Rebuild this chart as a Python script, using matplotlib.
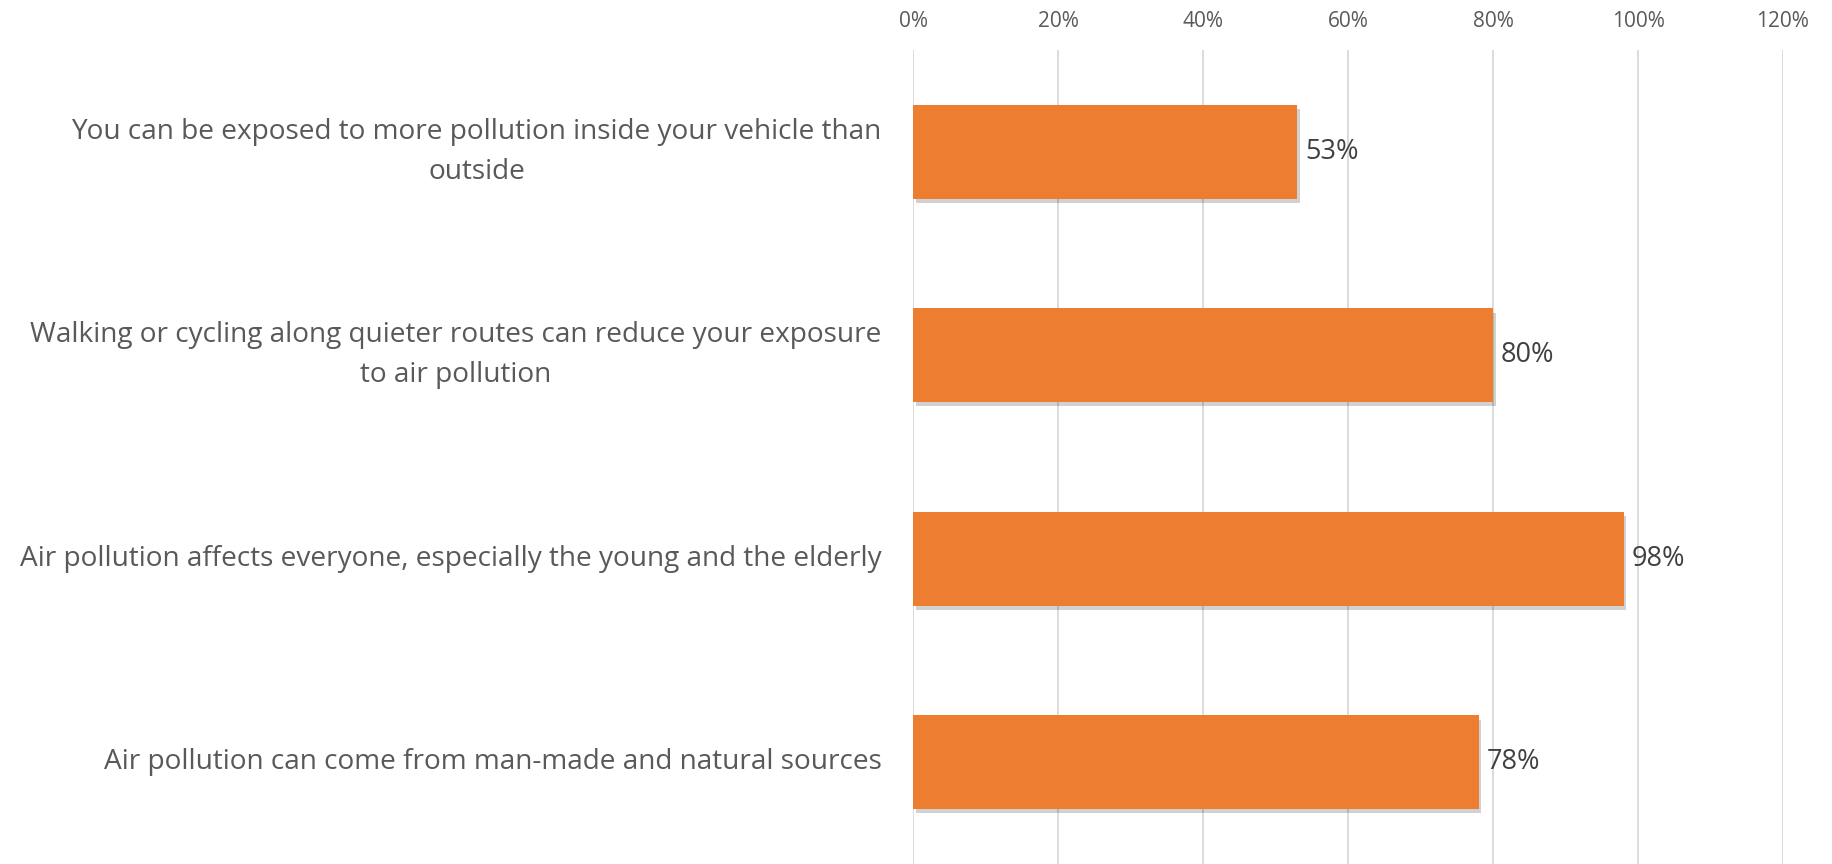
import matplotlib.pyplot as plt
import matplotlib.patheffects as pe
from matplotlib.ticker import PercentFormatter

plt.rcParams['font.family'] = ['Open Sans', 'DejaVu Sans']

# survey statements, top to bottom
statements = [
    "You can be exposed to more pollution inside your vehicle than\noutside",
    "Walking or cycling along quieter routes can reduce your exposure\nto air pollution",
    "Air pollution affects everyone, especially the young and the elderly",
    "Air pollution can come from man-made and natural sources",
]
agree_pct = [53, 80, 98, 78]
x_ticks = [0, 20, 40, 60, 80, 100, 120]

bar_color = '#ED7D31'
grid_color = '#D9D9D9'

fig = plt.figure(figsize=(18.32, 8.64), dpi=100)
ax = fig.add_axes([913 / 1832, 0, 870 / 1832, 814 / 864])

ypos = list(range(len(statements)))
bars = ax.barh(ypos, agree_pct, height=0.46, color=bar_color, zorder=3)
for b in bars:
    b.set_path_effects([pe.SimplePatchShadow(offset=(2, -3), shadow_rgbFace='#000000', alpha=0.18),
                        pe.Normal()])

for y, v in zip(ypos, agree_pct):
    ax.text(v + 1.1, y, f"{v}%", va='center', ha='left', fontsize=19.5, color='#404040')

ax.set_xlim(0, 120)
ax.set_ylim(len(statements) - 0.5, -0.5)
ax.set_xticks(x_ticks)
ax.xaxis.set_major_formatter(PercentFormatter(decimals=0))
ax.xaxis.tick_top()
ax.tick_params(axis='x', length=0, pad=13, labelsize=15, labelcolor='#595959')
ax.set_yticks([])
ax.grid(axis='x', color=grid_color, linewidth=1.3, zorder=0)
for s in ax.spines.values():
    s.set_visible(False)

for y, lab in zip(ypos, statements):
    ax.text(-0.036, y, lab, transform=ax.get_yaxis_transform(), ha='right', va='center',
            multialignment='center', fontsize=20.2, color='#595959', linespacing=1.55)

fig.savefig('out.png', dpi=100, facecolor='white')
